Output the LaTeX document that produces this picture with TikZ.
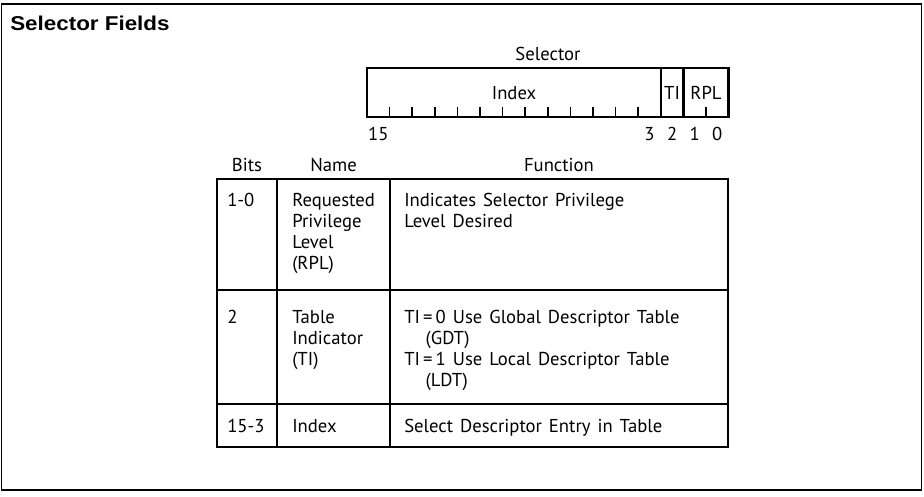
\documentclass[tikz,border=0pt]{standalone}
\usepackage{fontspec}
\setmainfont{PT Sans}[WordSpace=1.4]
\newfontfamily\titlefont[FakeStretch=1.12]{Liberation Sans}
\usepackage{tikz}

\tikzset{
  txt/.style={inner sep=0pt, font=\fontsize{14}{15.75}\selectfont},
  cell/.style={txt, anchor=north west, align=left},
  lbl/.style={txt, anchor=base},
  rule/.style={line width=2pt},
  field/.style={line width=1.7pt},
  tick/.style={line width=1.2pt}
}

\begin{document}
\begin{tikzpicture}[x=0.75pt, y=-0.75pt]
\useasboundingbox (0,0) rectangle (924,496);
\draw[line width=0.8pt] (1.5,4) rectangle (921.5,490);
\node[anchor=base west, inner sep=0pt, font=\titlefont\bfseries\fontsize{15}{18}\selectfont] (title) at (10,30) {Selector Fields};

\node[lbl] (sel) at (548,60) {Selector};
\draw[field] (367,68) rectangle (728.6,117);
\draw[field] (660.8,68) -- (660.8,117);
\draw[field] (683.4,68) -- (683.4,117);
\draw[tick] (389.6,107) -- (389.6,117);
\draw[tick] (412.2,107) -- (412.2,117);
\draw[tick] (434.8,107) -- (434.8,117);
\draw[tick] (457.4,107) -- (457.4,117);
\draw[tick] (480.0,107) -- (480.0,117);
\draw[tick] (502.6,107) -- (502.6,117);
\draw[tick] (525.2,107) -- (525.2,117);
\draw[tick] (547.8,107) -- (547.8,117);
\draw[tick] (570.4,107) -- (570.4,117);
\draw[tick] (593.0,107) -- (593.0,117);
\draw[tick] (615.6,107) -- (615.6,117);
\draw[tick] (638.2,107) -- (638.2,117);
\draw[tick] (706.0,107) -- (706.0,117);
\node[lbl] (idx) at (514,99) {Index};
\node[lbl] (ti) at (672.1,99) {TI};
\node[lbl] (rpl) at (706,99) {RPL};
\node[lbl] (b15) at (378.3,140) {15};
\node[lbl] (b3) at (649.5,140) {3};
\node[lbl] (b2) at (672.1,140) {2};
\node[lbl] (b1) at (694.7,140) {1};
\node[lbl] (b0) at (717.3,140) {0};

\node[lbl] (hbits) at (247,171) {Bits};
\node[lbl] (hname) at (333.5,171) {Name};
\node[lbl] (hfunc) at (559,171) {Function};
\draw[rule] (217,179) rectangle (728,447);
\draw[rule] (277,179) -- (277,447);
\draw[rule] (390,179) -- (390,447);
\draw[rule] (217,290) -- (728,290);
\draw[rule] (217,404) -- (728,404);

\node[cell] (bits1) at (227,193) {1-0};
\node[cell] (name1) at (292,193) {Requested\\Privilege\\Level\\(RPL)};
\node[cell] (func1) at (404,193) {Indicates Selector Privilege\\Level Desired};
\node[cell] (bits2) at (227,310) {2};
\node[cell] (name2) at (292,310) {Table\\Indicator\\(TI)};
\node[cell] (func2) at (404,310) {TI\,=\,0 Use Global Descriptor Table\\\hspace*{16pt}(GDT)\\TI\,=\,1 Use Local Descriptor Table\\\hspace*{16pt}(LDT)};
\node[cell] (bits3) at (227,419) {15-3};
\node[cell] (name3) at (292,419) {Index};
\node[cell] (func3) at (404,419) {Select Descriptor Entry in Table};
\end{tikzpicture}
\end{document}
